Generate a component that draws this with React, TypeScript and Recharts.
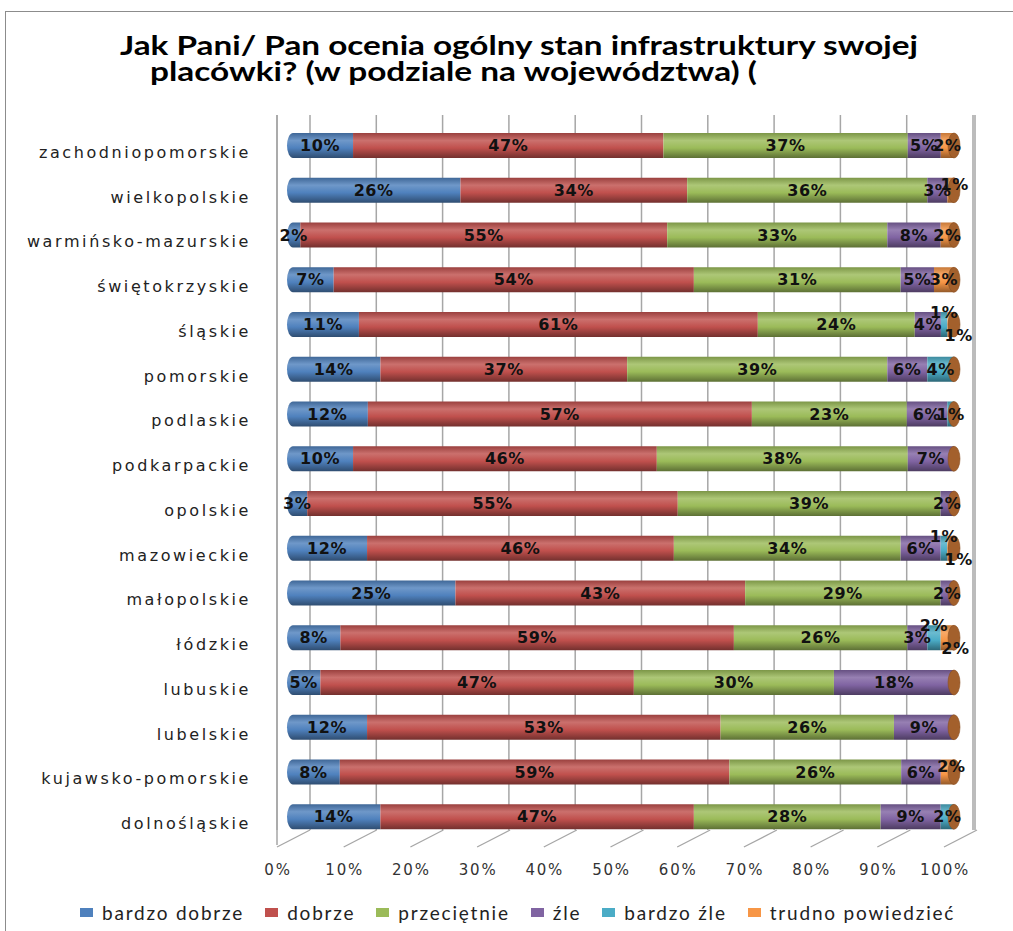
import React from 'react';
import { BarChart, Bar, XAxis, YAxis, CartesianGrid, LabelList } from 'recharts';

const categories = [
  'zachodniopomorskie', 'wielkopolskie', 'warmińsko-mazurskie', 'świętokrzyskie',
  'śląskie', 'pomorskie', 'podlaskie', 'podkarpackie', 'opolskie', 'mazowieckie',
  'małopolskie', 'łódzkie', 'lubuskie', 'lubelskie', 'kujawsko-pomorskie', 'dolnośląskie',
];
const bardzoDobrze = [10, 26, 2, 7, 11, 14, 12, 10, 3, 12, 25, 8, 5, 12, 8, 14];
const dobrze = [47, 34, 55, 54, 61, 37, 57, 46, 55, 46, 43, 59, 47, 53, 59, 47];
const przecietnie = [37, 36, 33, 31, 24, 39, 23, 38, 39, 34, 29, 26, 30, 26, 26, 28];
const zle = [5, 3, 8, 5, 4, 6, 6, 7, 2, 6, 2, 3, 18, 9, 6, 9];
const bardzoZle = [0, 0, 0, 0, 1, 4, 1, 0, 0, 1, 0, 2, 0, 0, 0, 2];
const trudno = [2, 1, 2, 3, 1, 0, 0, 0, 0, 1, 0, 2, 0, 0, 2, 0];

const seriesKeys = ['bd', 'd', 'p', 'z', 'bz', 't'];
const seriesNames = ['bardzo dobrze', 'dobrze', 'przeciętnie', 'źle', 'bardzo źle', 'trudno powiedzieć'];
const seriesColors = ['#4F81BD', '#C0504D', '#9BBB59', '#8064A2', '#4BACC6', '#F79646'];
const seriesValues = [bardzoDobrze, dobrze, przecietnie, zle, bardzoZle, trudno];

const xTicks = [0, 0.1, 0.2, 0.3, 0.4, 0.5, 0.6, 0.7, 0.8, 0.9, 1];
const xTickLabels = ['0%', '10%', '20%', '30%', '40%', '50%', '60%', '70%', '80%', '90%', '100%'];

const titleLines = [
  'Jak Pani/ Pan ocenia ogólny stan infrastruktury swojej',
  'placówki? (w podziale na województwa) (',
];

const data = categories.map((name, i) => {
  const row: any = { name };
  seriesKeys.forEach((k, s) => { row[k] = seriesValues[s][i]; });
  return row;
});

const shade = (hex: string, f: number) => {
  const n = parseInt(hex.slice(1), 16);
  const r = (n >> 16) & 255, g = (n >> 8) & 255, b = n & 255;
  const adj = (c: number) => (f >= 0 ? Math.round(c + (255 - c) * f) : Math.round(c * (1 + f)));
  return `rgb(${adj(r)},${adj(g)},${adj(b)})`;
};

const CAP = '#a3602c';

const makeShape = (i: number) => (props: any) => {
  const { x, y, width, height, payload } = props;
  if (x == null || y == null) return null;
  const w = Math.max(0, width || 0);
  const h = height;
  const vals = seriesKeys.map((k) => (payload ? payload[k] : 0));
  const firstIdx = vals.findIndex((v) => v > 0);
  const lastIdx = vals.map((v) => v > 0).lastIndexOf(true);
  const rx = 6;
  const ry = h / 2;
  const els: any[] = [];
  if (w > 0) {
    if (firstIdx === i) {
      const d = `M${x + rx},${y} L${x + w},${y} L${x + w},${y + h} L${x + rx},${y + h} A${rx},${ry} 0 0 1 ${x + rx},${y} Z`;
      els.push(<path key="b" d={d} fill={`url(#cyl${i})`} />);
    } else {
      els.push(<rect key="b" x={x} y={y} width={w} height={h} fill={`url(#cyl${i})`} />);
    }
  }
  if (lastIdx === i) {
    els.push(
      <ellipse key="c" cx={x + w} cy={y + h / 2} rx={rx} ry={ry} fill={CAP} stroke="#8a4f22" strokeWidth={0.6} />
    );
  }
  return <g>{els}</g>;
};

const makeLabel = (i: number) => (props: any) => {
  const vb = props.viewBox && props.viewBox.x != null ? props.viewBox : props;
  const { x, y, width, height } = vb;
  const { value, index } = props;
  if (!value) return null;
  let cx = x + width / 2;
  let cy = y + height / 2;
  const both = bardzoZle[index] > 0 && trudno[index] > 0;
  if (both && i === 4) cy -= 12;
  if (both && i === 5) { cy += 11; cx += 8; }
  if (!both && i === 5 && value <= 2 && zle[index] <= 6 && zle[index] !== 5) { cy -= 6; cx += 4; }
  return (
    <text
      x={cx}
      y={cy}
      textAnchor="middle"
      dominantBaseline="central"
      fontFamily="DejaVu Sans"
      fontWeight="bold"
      fontSize={16}
      letterSpacing={0.6}
      fill="#111"
    >
      {value}%
    </text>
  );
};

const YTick = (props: any) => (
  <text
    x={props.x}
    y={props.y}
    dy={7}
    textAnchor="end"
    dominantBaseline="central"
    fontFamily="DejaVu Sans"
    fontSize={16}
    letterSpacing={2.6}
    fill="#222"
  >
    {props.payload.value}
  </text>
);

const XTick = (props: any) => {
  const { x, y, payload, index } = props;
  const label = xTickLabels[index] ?? `${Math.round(payload.value * 100)}%`;
  return (
    <g>
      <line x1={x - 10} y1={y + 2} x2={x + 23} y2={y - 15} stroke="#a6a6a6" strokeWidth={1.3} />
      <text
        x={x - 9}
        y={y + 30}
        textAnchor="middle"
        fontFamily="DejaVu Sans"
        fontSize={15}
        letterSpacing={1.8}
        fill="#333"
      >
        {label}
      </text>
    </g>
  );
};

export default function App() {
  return (
    <div style={{ position: 'absolute', left: 0, top: 0, width: 1013, height: 931, background: '#fff', overflow: 'hidden' }}>
      <div
        style={{
          position: 'absolute', left: 5, top: 11, width: 1020, height: 940,
          borderLeft: '1px solid #8c8c8c', borderTop: '1px solid #8c8c8c',
        }}
      />
      <svg style={{ position: 'absolute', left: 0, top: 0 }} width={1013} height={100}>
        <text x={120} y={55} fontFamily="Lato" fontWeight="bold" fontSize={26} fill="#000"
          textLength={798} lengthAdjust="spacingAndGlyphs">{titleLines[0]}</text>
        <text x={150} y={81} fontFamily="Lato" fontWeight="bold" fontSize={26} fill="#000"
          textLength={607} lengthAdjust="spacingAndGlyphs">{titleLines[1]}</text>
      </svg>
      <div style={{ position: 'absolute', left: 0, top: 0 }}>
        <BarChart
          width={1013}
          height={931}
          data={data}
          layout="vertical"
          stackOffset="expand"
          barSize={25}
          margin={{ top: 115, right: 38, bottom: 56, left: 17 }}
        >
          <defs>
            {seriesColors.map((c, i) => (
              <linearGradient key={i} id={`cyl${i}`} x1="0" y1="0" x2="0" y2="1">
                <stop offset="0%" stopColor={shade(c, -0.2)} />
                <stop offset="30%" stopColor={shade(c, 0.18)} />
                <stop offset="60%" stopColor={c} />
                <stop offset="100%" stopColor={shade(c, -0.4)} />
              </linearGradient>
            ))}
          </defs>
          <XAxis
            xAxisId="grid"
            type="number"
            domain={[0, 1]}
            ticks={xTicks}
            hide
            padding={{ left: 33, right: 2 }}
          />
          <CartesianGrid
            xAxisId="grid"
            horizontal={false}
            vertical
            stroke="#a6a6a6"
            strokeWidth={1.5}
            y={115}
            height={715}
          />
          <XAxis
            type="number"
            domain={[0, 1]}
            ticks={xTicks}
            tick={<XTick />}
            tickLine={false}
            axisLine={false}
            tickSize={0}
            tickMargin={0}
            height={30}
            padding={{ left: 10, right: 21 }}
            interval={0}
          />
          <YAxis
            type="category"
            dataKey="name"
            width={260}
            tick={<YTick />}
            tickLine={false}
            tickSize={0}
            tickMargin={26}
            axisLine={{ stroke: '#a6a6a6', strokeWidth: 1.5 }}
            padding={{ top: 8, bottom: 6 }}
            interval={0}
          />
          {seriesKeys.map((k, i) => (
            <Bar
              key={k}
              dataKey={k}
              name={seriesNames[i]}
              stackId="a"
              fill={seriesColors[i]}
              shape={makeShape(i)}
              isAnimationActive={false}
            >
              <LabelList dataKey={k} content={makeLabel(i)} />
            </Bar>
          ))}
        </BarChart>
      </div>
      <div
        style={{
          position: 'absolute', left: 80, top: 901, display: 'flex',
          gap: 21, fontFamily: 'Lato', fontSize: 19,
          letterSpacing: 1.8, color: '#222', whiteSpace: 'nowrap',
        }}
      >
        {seriesNames.map((n, i) => (
          <div key={n} style={{ display: 'flex', alignItems: 'center' }}>
            <span style={{ display: 'inline-block', width: 13, height: 9, background: seriesColors[i], marginRight: 9 }} />
            <span>{n}</span>
          </div>
        ))}
      </div>
    </div>
  );
}
